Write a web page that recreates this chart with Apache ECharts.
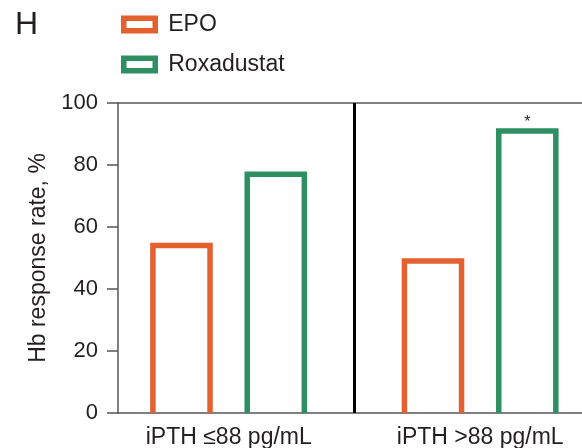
<!DOCTYPE html>
<html>
<head>
<meta charset="utf-8">
<script src="https://cdn.jsdelivr.net/npm/echarts@6/dist/echarts.min.js"></script>
<style>
  html, body { margin: 0; padding: 0; background: #fff; }
  #chart { width: 582px; height: 448px; }
</style>
</head>
<body>
<div id="chart"></div>
<script>
// Hb response rate by baseline iPTH subgroup
const categories = ['iPTH \u226488 pg/mL', 'iPTH >88 pg/mL'];
const epoValues = [54, 49];
const roxaValues = [77, 91];
const roxaSignificance = ['', '*'];
const yTicks = { min: 0, max: 100, step: 20 };

const ORANGE = '#E4612F';
const GREEN = '#2E8F62';
const TEXT = '#231F20';
const AXIS = '#555555';
const FONT = 'Liberation Sans, Arial, Helvetica, sans-serif';
const STROKE = 5.5;

// Open-bottomed outlined bar, placed inside its category band
function outlinedBar(color, offsetFrac, widthFrac, marks) {
  return function (params, api) {
    const cat = api.value(0);
    const val = api.value(1);
    const base = api.coord([cat, 0]);
    const top = api.coord([cat, val]);
    const band = api.size([1, 0])[0];
    const cx = base[0] + band * offsetFrac;
    const half = band * widthFrac / 2;
    const children = [{
      type: 'polyline',
      shape: { points: [[cx - half, base[1]], [cx - half, top[1]], [cx + half, top[1]], [cx + half, base[1]]] },
      style: { stroke: color, fill: null, lineWidth: STROKE, lineJoin: 'miter' }
    }];
    const mark = marks ? marks[params.dataIndex] : '';
    if (mark) {
      children.push({
        type: 'text',
        style: {
          text: mark, x: cx, y: top[1] - 0.5,
          align: 'center', verticalAlign: 'bottom',
          font: '16px ' + FONT, fill: TEXT
        }
      });
    }
    return { type: 'group', children: children };
  };
}

const chart = echarts.init(document.getElementById('chart'), null, { renderer: 'canvas' });

chart.setOption({
  animation: false,
  backgroundColor: '#fff',
  textStyle: { fontFamily: FONT },
  title: {
    text: 'H', left: 10, top: 4,
    textStyle: { fontSize: 32, fontWeight: 'normal', color: TEXT, fontFamily: FONT }
  },
  legend: {
    orient: 'vertical', left: 121, top: 13, padding: 0,
    itemWidth: 31.5, itemHeight: 12.5, itemGap: 17,
    textStyle: { fontSize: 23, color: TEXT, fontFamily: FONT, padding: [0, 0, 0, 8] },
    data: [
      { name: 'EPO', icon: 'rect', itemStyle: { color: '#fff', borderColor: ORANGE, borderWidth: STROKE } },
      { name: 'Roxadustat', icon: 'rect', itemStyle: { color: '#fff', borderColor: GREEN, borderWidth: STROKE } }
    ]
  },
  grid: [
    { left: 103, width: 503, top: 103, bottom: 35, outerBoundsMode: 'none', containLabel: false },
    { left: 118, width: 480, top: 103, bottom: 35, outerBoundsMode: 'none', containLabel: false }
  ],
  xAxis: [
    {
      type: 'category', gridIndex: 0, data: categories,
      axisLine: { show: false }, axisTick: { show: false },
      axisLabel: { fontSize: 23, color: TEXT, margin: 13, fontFamily: FONT }
    },
    {
      type: 'value', gridIndex: 1, min: 0, max: 1, position: 'bottom',
      axisLine: { show: true, lineStyle: { color: AXIS, width: 1.5 } },
      axisTick: { show: false }, axisLabel: { show: false }, splitLine: { show: false }
    },
    {
      type: 'value', gridIndex: 1, min: 0, max: 1, position: 'top',
      axisLine: { show: true, lineStyle: { color: AXIS, width: 1.5 } },
      axisTick: { show: false }, axisLabel: { show: false }, splitLine: { show: false }
    }
  ],
  yAxis: [
    {
      type: 'value', gridIndex: 0, min: yTicks.min, max: yTicks.max,
      show: false
    },
    {
      type: 'value', gridIndex: 1, min: yTicks.min, max: yTicks.max, interval: yTicks.step,
      name: 'Hb response rate, %', nameLocation: 'middle', nameGap: 66,
      nameTextStyle: { fontSize: 23, color: TEXT, fontFamily: FONT },
      axisLine: { show: true, lineStyle: { color: AXIS, width: 1.5 } },
      axisTick: { show: true, length: 11, lineStyle: { color: AXIS, width: 1.5 } },
      axisLabel: { fontSize: 22, color: TEXT, margin: 20, fontFamily: FONT },
      splitLine: { show: false }
    }
  ],
  series: [
    {
      name: 'EPO', type: 'custom', xAxisIndex: 0, yAxisIndex: 0,
      itemStyle: { color: ORANGE },
      encode: { x: 0, y: 1 },
      data: categories.map((c, i) => [i, epoValues[i]]),
      renderItem: outlinedBar(ORANGE, -0.188, 0.227, null),
      z: 2
    },
    {
      name: 'Roxadustat', type: 'custom', xAxisIndex: 0, yAxisIndex: 0,
      itemStyle: { color: GREEN },
      encode: { x: 0, y: 1 },
      data: categories.map((c, i) => [i, roxaValues[i]]),
      renderItem: outlinedBar(GREEN, 0.187, 0.227, roxaSignificance),
      z: 2
    },
    {
      // vertical separator between the two subgroups
      name: 'divider', type: 'custom', xAxisIndex: 0, yAxisIndex: 0, silent: true,
      data: [[0, yTicks.max]],
      renderItem: function (params, api) {
        const band = api.size([1, 0])[0];
        const top = api.coord([api.value(0), api.value(1)]);
        const bottom = api.coord([api.value(0), 0]);
        const x = top[0] + band / 2;
        return {
          type: 'line',
          shape: { x1: x, y1: top[1], x2: x, y2: bottom[1] },
          style: { stroke: '#000', lineWidth: 3 }
        };
      },
      z: 3
    }
  ]
});
</script>
</body>
</html>
